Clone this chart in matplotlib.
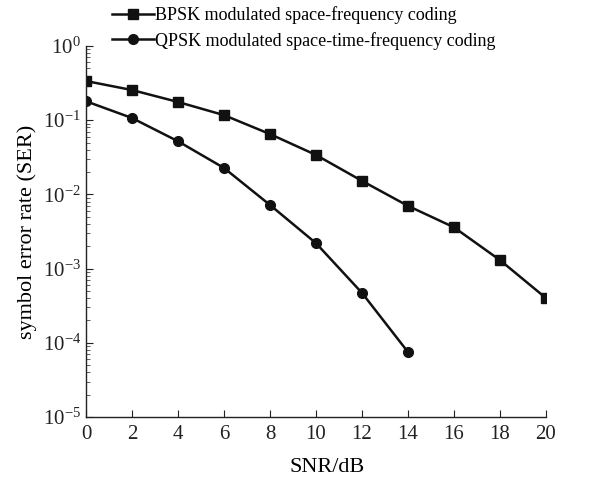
import numpy as np
import matplotlib.pyplot as plt
from matplotlib.ticker import LogLocator, FixedLocator

plt.rcParams['font.family'] = ['Liberation Serif', 'DejaVu Serif']
plt.rcParams['mathtext.fontset'] = 'stix'

snr = [0, 2, 4, 6, 8, 10, 12, 14, 16, 18, 20]
ser_bpsk = [0.337, 0.255, 0.176, 0.117, 0.065, 0.034, 0.0152, 0.0070, 0.0036, 0.0013, 0.0004]
snr_q = [0, 2, 4, 6, 8, 10, 12, 14]
ser_qpsk = [0.18, 0.107, 0.052, 0.0227, 0.0072, 0.0022, 0.00047, 7.5e-5]

fig = plt.figure(figsize=(5.96, 4.79), dpi=100)
ax = fig.add_axes([0.1443, 0.1294, 0.7718, 0.7746])

ax.semilogy(snr, ser_bpsk, color='#111111', lw=1.8, marker='s', ms=7,
            label='BPSK modulated space-frequency coding')
ax.semilogy(snr_q, ser_qpsk, color='#111111', lw=1.8, marker='o', ms=7,
            label='QPSK modulated space-time-frequency coding')

ax.set_xlim(0, 20)
ax.set_ylim(1e-5, 1)
ax.set_xticks(range(0, 21, 2))
ax.yaxis.set_major_locator(FixedLocator([1e-5, 1e-4, 1e-3, 1e-2, 1e-1, 1]))
ax.yaxis.set_minor_locator(LogLocator(base=10, subs=np.arange(2, 10), numticks=20))

for s in ['top', 'right']:
    ax.spines[s].set_visible(False)
for s in ['left', 'bottom']:
    ax.spines[s].set_color('#222222')
    ax.spines[s].set_linewidth(1.0)

ax.tick_params(axis='both', which='major', direction='in', length=5, width=0.8,
               labelsize=15, colors='#222222')
ax.tick_params(axis='y', which='minor', direction='in', length=3, width=0.6, colors='#444444')
ax.tick_params(axis='x', pad=6)

ax.set_xlabel('SNR/dB', fontsize=16, labelpad=8)
ax.xaxis.set_label_coords(0.524, -0.11)
ax.set_ylabel('symbol error rate (SER)', fontsize=16, labelpad=4)

fig.legend(loc='upper left', bbox_to_anchor=(0.185, 0.99), frameon=False,
           fontsize=13, handlelength=2.3, handletextpad=0.1, labelspacing=0.4,
           borderaxespad=0.0, borderpad=0.1)

fig.savefig('out.png', dpi=100)
